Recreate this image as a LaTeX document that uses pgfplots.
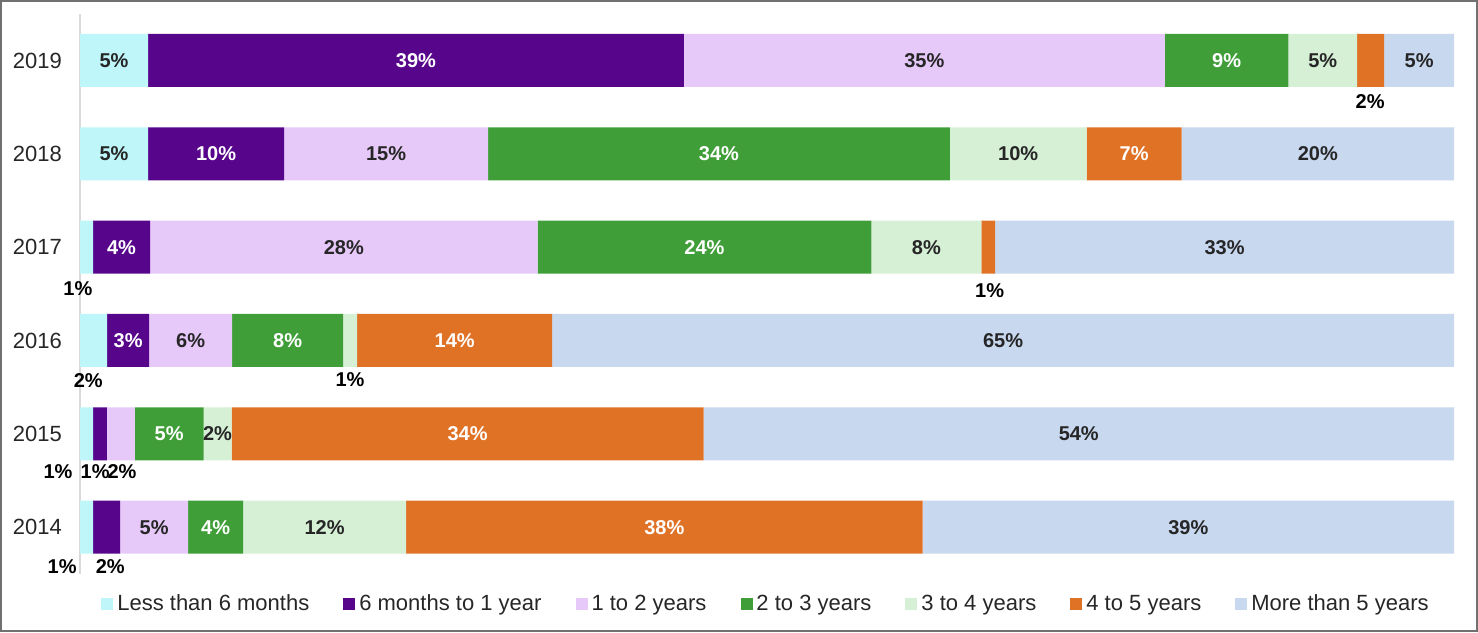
\documentclass[border=0pt]{standalone}
\usepackage{pgfplots}
\pgfplotsset{compat=1.18}
\usepackage{pgfplotstable}
\usepackage{fontspec}
\setmainfont{Liberation Sans}
\definecolor{cA}{HTML}{BFF6F9}
\definecolor{cB}{HTML}{57068C}
\definecolor{cC}{HTML}{E6C8F9}
\definecolor{cD}{HTML}{3F9E38}
\definecolor{cE}{HTML}{D6F0D6}
\definecolor{cF}{HTML}{E07226}
\definecolor{cG}{HTML}{C8D8EF}
\definecolor{txt}{HTML}{262626}
\definecolor{frm}{HTML}{707070}
\definecolor{axl}{HTML}{D9D9D9}

% y: 0=2019 ... 5=2014 ; x = share, lab = printed value, show = label inside bar
\pgfplotstableread{
y x lab show
0 4.95 5 1
1 4.95 5 1
2 0.95 1 0
3 1.97 2 0
4 0.95 1 0
5 0.95 1 0
}\tA
\pgfplotstableread{
y x lab show
0 39.0 39 1
1 9.9 10 1
2 4.15 4 1
3 3.06 3 1
4 1.0 1 0
5 1.97 2 0
}\tB
\pgfplotstableread{
y x lab show
0 35.0 35 1
1 14.85 15 1
2 28.2 28 1
3 6.04 6 1
4 2.04 2 0
5 4.95 5 1
}\tC
\pgfplotstableread{
y x lab show
0 9.0 9 1
1 33.6 34 1
2 24.3 24 1
3 8.08 8 1
4 5.0 5 1
5 4.0 4 1
}\tD
\pgfplotstableread{
y x lab show
0 5.0 5 1
1 9.97 10 1
2 8.0 8 1
3 1.02 1 0
4 2.04 2 1
5 11.86 12 1
}\tE
\pgfplotstableread{
y x lab show
0 1.97 2 0
1 6.9 7 1
2 1.0 1 0
3 14.2 14 1
4 34.35 34 1
5 37.6 38 1
}\tF
\pgfplotstableread{
y x lab show
0 5.08 5 1
1 19.83 20 1
2 33.4 33 1
3 65.63 65 1
4 54.62 54 1
5 38.67 39 1
}\tG

\pgfplotsset{
  seg/.style 2 args={
    fill=#1, draw=none,
    legend image code/.code={\fill[##1] (0pt,-3pt) rectangle (6pt,3pt);},
    visualization depends on={\thisrow{show} \as \segshow},
    point meta=explicit,
    nodes near coords={\ifdim\segshow pt>0.5pt \pgfmathprintnumber[assume math mode=true]{\pgfplotspointmeta}\%\fi},
    every node near coord/.append style={anchor=center, text=#2,
      font=\bfseries\fontsize{10}{12}\selectfont},
  },
}
\tikzset{outl/.style={font=\bfseries\fontsize{10}{12}\selectfont, text=black, anchor=center}}

\begin{document}
\begin{tikzpicture}
\begin{axis}[
  at={(40pt,-6.9pt)}, anchor=north west,
  scale only axis, width=687pt, height=280pt,
  xbar stacked, bar width=26.5pt,
  xmin=0, xmax=100, ymin=-0.5, ymax=5.5, y dir=reverse,
  axis x line=none,
  axis y line*=left,
  y axis line style={-, draw=axl, line width=0.6pt},
  ytick={0,1,2,3,4,5},
  yticklabels={2019,2018,2017,2016,2015,2014},
  major tick length=0pt,
  yticklabel style={font=\fontsize{11}{13}\selectfont, text=txt, xshift=-5.5pt},
  legend columns=7,
  legend style={at={(0.5,-0.054)}, anchor=center, draw=none, fill=none,
    font=\fontsize{11}{13}\selectfont, text=txt,
    /tikz/every even column/.append style={column sep=15pt}},
  clip=false,
]
\addplot[seg={cA}{txt}] table[x=x,y=y,meta=lab]{\tA};
\addplot[seg={cB}{white}] table[x=x,y=y,meta=lab]{\tB};
\addplot[seg={cC}{txt}] table[x=x,y=y,meta=lab]{\tC};
\addplot[seg={cD}{white}] table[x=x,y=y,meta=lab]{\tD};
\addplot[seg={cE}{txt}] table[x=x,y=y,meta=lab]{\tE};
\addplot[seg={cF}{white}] table[x=x,y=y,meta=lab]{\tF};
\addplot[seg={cG}{txt}] table[x=x,y=y,meta=lab]{\tG};
\legend{Less than 6 months, 6 months to 1 year, 1 to 2 years, 2 to 3 years, 3 to 4 years, 4 to 5 years, More than 5 years}
% labels of the thin segments, set below their bars
\node[outl] at (axis cs:93.9,0.44) {2\%};
\node[outl] at (axis cs:-0.15,2.44) {1\%};
\node[outl] at (axis cs:66.2,2.47) {1\%};
\node[outl] at (axis cs:0.6,3.43) {2\%};
\node[outl] at (axis cs:19.65,3.42) {1\%};
\node[outl] at (axis cs:-1.6,4.41) {1\%};
\node[outl] at (axis cs:1.1,4.41) {1\%};
\node[outl] at (axis cs:3.06,4.41) {2\%};
\node[outl] at (axis cs:-1.3,5.42) {1\%};
\node[outl] at (axis cs:2.2,5.42) {2\%};
\end{axis}
\draw[frm, line width=1.2pt] (0.6pt,-0.6pt) rectangle (738.4pt,-315.4pt);
\pgfresetboundingbox
\useasboundingbox (0pt,0pt) rectangle (739pt,-316pt);
\end{tikzpicture}
\end{document}
